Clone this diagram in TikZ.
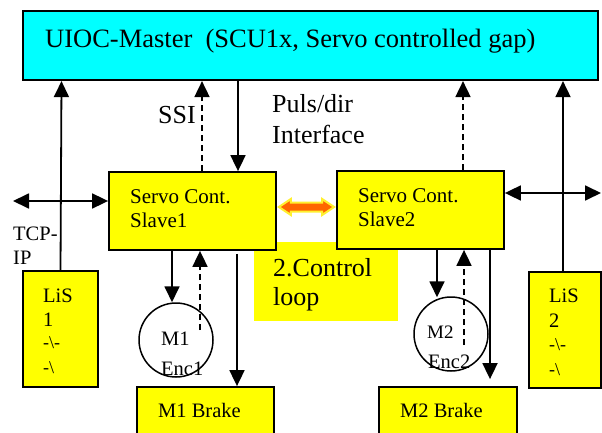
\documentclass[tikz,border=0pt]{standalone}
\usepackage{fontspec}
\setmainfont{Liberation Serif}
\usetikzlibrary{arrows.meta,calc}
\definecolor{cy}{HTML}{00FFFF}
\definecolor{ye}{HTML}{FFFF00}
\definecolor{og}{HTML}{FF6600}
\definecolor{oy}{HTML}{FFF030}
\begin{document}
\begin{tikzpicture}[x=1pt,y=-1pt,
  boxstyle/.style={draw=black,line width=1.8pt,fill=ye,rectangle,inner sep=0pt},
  txt/.style={inner sep=0pt,anchor=base west,text=black},
  big/.style={font=\fontsize{26}{30}\selectfont},
  mid/.style={font=\fontsize{20.5}{24}\selectfont},
  sml/.style={font=\fontsize{18}{22}\selectfont},
  arr/.style={line width=1.8pt,-{Triangle[length=16pt,width=15pt]}},
  darr/.style={line width=1.8pt,{Triangle[length=16pt,width=15pt]}-{Triangle[length=16pt,width=15pt]}},
  dsh/.style={dash pattern=on 6pt off 4pt}]
\clip (0,0) rectangle (602,433);
\fill[white] (0,0) rectangle (602,433);

% top master box
\node[boxstyle,fill=cy,line width=2.2pt,minimum width=575pt,minimum height=69pt] (top) at (310.5,45.5) {};
\node[txt,font=\fontsize{26.5}{30}\selectfont] (title) at (45,47.5) {UIOC-Master\ \ (SCU1x, Servo controlled gap)};

% control loop label box (behind slaves)
\node[fill=ye,inner sep=0pt,minimum width=144pt,minimum height=79pt] (loop) at (326,281.5) {};
\node[txt,big] (loopa) at (273,276) {2.Control};
\node[txt,big] (loopb) at (273,305) {loop};

% slaves
\node[boxstyle,minimum width=167pt,minimum height=78pt] (s1) at (192.5,211) {};
\node[txt,font=\fontsize{21}{24}\selectfont] (s1a) at (130,203) {Servo Cont.};
\node[txt,font=\fontsize{21}{24}\selectfont] (s1b) at (130,227) {Slave1};
\node[boxstyle,minimum width=167pt,minimum height=78pt] (s2) at (420.5,210) {};
\node[txt,font=\fontsize{21}{24}\selectfont] (s2a) at (358,202) {Servo Cont.};
\node[txt,font=\fontsize{21}{24}\selectfont] (s2b) at (358,226) {Slave2};

% LiS boxes
\node[boxstyle,minimum width=75pt,minimum height=116pt] (lis1) at (60.5,329) {};
\node[txt,mid] (l1a) at (43,302) {LiS};
\node[txt,mid] (l1b) at (43,326) {1};
\node[txt,sml] (l1c) at (43,348) {-\textbackslash-};
\node[txt,sml] (l1d) at (43,373) {-\textbackslash};
\node[boxstyle,minimum width=72pt,minimum height=116pt] (lis2) at (565,330) {};
\node[txt,mid] (l2a) at (549,302) {LiS};
\node[txt,mid] (l2b) at (549,327) {2};
\node[txt,sml] (l2c) at (549,350) {-\textbackslash-};
\node[txt,sml] (l2d) at (549,375) {-\textbackslash};

% brake boxes
\node[boxstyle,minimum width=137pt,minimum height=60pt] (b1) at (205.5,417) {};
\node[txt,mid] (b1t) at (158,417) {M1 Brake};
\node[boxstyle,minimum width=138pt,minimum height=60pt] (b2) at (448,417) {};
\node[txt,mid] (b2t) at (400,417) {M2 Brake};

% motors
\node[draw=black,line width=1.5pt,circle,minimum size=74pt,inner sep=0pt] (m1) at (176,340) {};
\node[txt,mid] (m1a) at (161,345) {M1};
\node[txt,mid] (m1b) at (161,375) {Enc1};
\node[draw=black,line width=1.5pt,circle,minimum size=74pt,inner sep=0pt] (m2) at (451,334) {};
\node[txt,font=\fontsize{19}{22}\selectfont] (m2a) at (427,338) {M2};
\node[txt,mid] (m2b) at (428,368) {Enc2};

% labels
\node[txt,big] (ssi) at (158,124) {SSI};
\node[txt,big] (puls) at (272,113) {Puls/dir};
\node[txt,big] (intf) at (272,143) {Interface};
\node[txt,mid] (tcp1) at (13,240) {TCP-};
\node[txt,mid] (tcp2) at (13,264) {IP};

% connectors to master
\draw[arr] (lis1.north) -- ($(top.south)+(-249,0)$);
\draw[arr] ($(lis2.north)+(-2,0)$) -- ($(top.south)+(252.5,0)$);
\draw[arr,dsh] ($(s1.north)+(9.5,0)$) -- ($(top.south)+(-108.5,0)$);
\draw[arr] ($(top.south)+(-72.5,0)$) -- ($(s1.north)+(45.5,0)$);
\draw[arr,dsh] ($(s2.north)+(42.5,0)$) -- ($(top.south)+(152.5,0)$);

% TCP-IP arrows
\coordinate (tcpl) at (13,201);
\coordinate (tcpr) at (601,193);
\draw[darr] (tcpl) -- ($(s1.west)+(0,-10)$);
\draw[darr] ($(s2.east)+(0,-17)$) -- (tcpr);

% slave1 to motor / brake
\draw[arr] ($(s1.south)+(-20.5,0)$) -- ($(m1.north)+(-4,0)$);
\draw[arr,dsh] ($(m1.center)+(24,-10)$) -- ($(s1.south)+(7.5,0)$);
\draw[arr] ($(s1.south)+(44.5,3)$) -- ($(b1.north)+(31.5,0)$);

% slave2 to motor / brake
\draw[arr] ($(s2.south)+(16.5,0)$) -- ($(m2.north)+(-14,1)$);
\draw[arr,dsh] ($(m2.center)+(13,11)$) -- ($(s2.south)+(43.5,0)$);
\draw[arr] ($(s2.south)+(69.5,0)$) -- ($(b2.north)+(42,-7)$);

% orange double arrow between slaves
\coordinate (oa) at ($(s1.east)+(2,-4)$);
\coordinate (ob) at ($(s2.west)+(-2,-3)$);
\filldraw[fill=og,draw=oy,line width=2pt,line join=miter]
  (oa) -- ++(12,-8) -- ++(0,3.5) -- ($(ob)+(-12,-4.5)$) -- ++(0,-3.5) -- (ob)
  -- ++(-12,8) -- ++(0,-3.5) -- ($(oa)+(12,4.5)$) -- ++(0,3.5) -- cycle;
\end{tikzpicture}
\end{document}
